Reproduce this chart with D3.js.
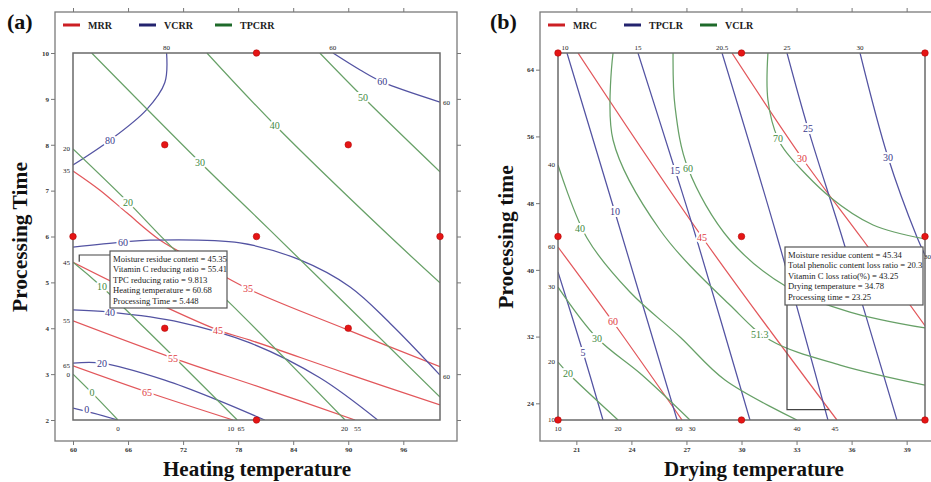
<!DOCTYPE html>
<html>
<head>
	<meta charset="utf-8">
	<script type="text/javascript" src="https://cdn.jsdelivr.net/npm/d3@7"></script>
	<title>Contour plots</title>
	<style type="text/css">
		body { margin: 0; background: #fff; }
		text { font-family: "Liberation Serif", "Times New Roman", serif; }
	</style>
</head>
<body>
<script>
	// ---------- panel (a): heating temperature x processing time ----------
	var tempTicksA = [60, 66, 72, 78, 84, 90, 96];
	var timeTicksA = [2, 3, 4, 5, 6, 7, 8, 9, 10];
	var designA = [[60,6],[70,8],[80,10],[90,8],[100,6],[80,6],[70,4],[90,4],[80,2]];
	var namesA = ['MRR', 'VCRR', 'TPCRR'];

	// contour lines: [temperature, time]
	var mrrA = [
		{v:'35', lab:[79.07,4.86], pts:[[60,7.43],[62.94,7.01],[65.9,6.51],[69.5,5.92],[73.8,5.44],[79.07,4.86],[90,3.96],[100,3.16]]},
		{v:'45', lab:[75.8,3.96],  pts:[[60,5.44],[67,4.75],[75.8,3.96],[79.3,3.74],[90,3.0],[100,2.33]]},
		{v:'55', lab:[70.9,3.35],  pts:[[60,4.16],[70.9,3.35],[80.9,2.68],[90.74,2]]},
		{v:'65', lab:[68.07,2.61], pts:[[60,3.18],[68.07,2.61],[77.44,2]]}
	];
	var vcrrA = [
		{v:'80', lab:[64.03,8.10], pts:[[70.2,10],[70.0,9.35],[68.0,8.76],[64.03,8.10],[60,7.56]]},
		{v:'60', lab:[93.7,9.37],  pts:[[88.34,10],[91.3,9.63],[93.7,9.37],[100,8.93]]},
		{v:'60', lab:[65.45,5.88], pts:[[60,5.77],[65.45,5.88],[68.4,5.92],[78.2,5.86],[84.74,5.49],[90.2,4.90],[94.55,4.11],[100,2.98]]},
		{v:'40', lab:[64.03,4.35], pts:[[60,4.40],[64.03,4.35],[71.7,4.13],[79.3,3.68],[86.9,2.92],[93.2,2.0]]},
		{v:'20', lab:[63.16,3.24], pts:[[60,3.24],[63.16,3.24],[70,2.87],[75.7,2.44],[80.9,2.0]]},
		{v:'0',  lab:[61.5,2.22],  pts:[[60,2.26],[62.2,2.15],[64.9,2.0]]}
	];
	var tpcrrA = [
		{v:'0',  lab:[62.07,2.59], pts:[[60,3.0],[62.07,2.59],[64.9,2.0]]},
		{v:'10', lab:[63.16,4.9],  pts:[[60,5.44],[63.16,4.9],[77.9,2.0]]},
		{v:'20', lab:[66,6.75],    pts:[[60,7.91],[66,6.75],[70,5.92],[78.2,4.33],[89.65,2]]},
		{v:'30', lab:[73.84,7.62], pts:[[62.04,10],[73.84,7.62],[81.47,6.14],[100,2.5]]},
		{v:'40', lab:[82,8.43],    pts:[[74.6,10],[82,8.43],[93.8,6.14],[100,4.99]]},
		{v:'50', lab:[91.6,9.04],  pts:[[86.9,10],[91.6,9.04],[100,7.41]]}
	];
	// small level labels printed around the inner frame
	var edgeTopA = [['80',70.2],['60',88.3]];
	var edgeLeftA = [['20',7.91],['35',7.43],['45',5.44],['55',4.16],['65',3.18],['0',3.0]];
	var edgeBottomA = [['0',64.9],['10',77.2],['65',78.3],['20',89.6],['55',91.0]];
	var edgeRightA = [['60',8.93],['60',2.94]];
	var boxTextA = ['Moisture residue content = 45.35', 'Vitamin C reducing ratio = 55.41',
		'TPC reducing ratio = 9.813', 'Heating temperature = 60.68', 'Processing Time = 5.448'];
	var pickA = [60.68, 5.448];

	// ---------- panel (b): drying temperature x processing time ----------
	var tempTicksB = [21, 24, 27, 30, 33, 36, 39];
	var timeTicksB = [24, 32, 40, 48, 56, 64];
	var designB = [[20,66],[30,66],[40,66],[20,44],[30,44],[40,44],[20,22],[30,22],[40,22]];
	var namesB = ['MRC', 'TPCLR', 'VCLR'];

	var mrcB = [
		{v:'30', lab:[33.3,53.41],  pts:[[29.48,66],[33.3,53.41],[36.62,43.58],[40,33.3]]},
		{v:'45', lab:[27.85,43.94], pts:[[21.09,66],[27.85,43.94],[35.2,22]]},
		{v:'60', lab:[23.0,33.75],  pts:[[20,42.74],[23.0,33.75],[26.76,22]]}
	];
	var tpclrB = [
		{v:'5',  lab:[21.36,30.15], pts:[[20,39.74],[21.36,30.15],[22.45,22]]},
		{v:'10', lab:[23.1,46.94],  pts:[[20.49,66],[23.1,46.94],[26.49,22]]},
		{v:'15', lab:[26.38,51.97], pts:[[24.36,66],[26.38,51.97],[27.57,43.58],[30.46,22]]},
		{v:'20', lab:null,          pts:[[28.94,66],[31.99,43.58],[34.71,22]]},
		{v:'25', lab:[33.62,57.0],  pts:[[32.48,66],[33.62,57.0],[35.53,43.58],[38.47,22]]},
		{v:'30', lab:[37.98,53.53], pts:[[36.46,66],[37.98,53.53],[39.56,43.94],[40,41.78]]}
	];
	var vclrB = [
		{v:'20',   lab:[20.54,27.63], pts:[[20,28.95],[20.54,27.63],[23.27,22]]},
		{v:'30',   lab:[22.13,31.83], pts:[[20,37.94],[22.13,31.83],[24.58,27.39],[27.19,22]]},
		{v:'40',   lab:[21.2,45.0],   pts:[[20,52.57],[21.58,43.82],[23.92,37.34],[26.65,31.95],[29.1,26.79],[33.02,22]]},
		{v:'51.3', lab:[31.0,32.3],   pts:[[23.0,66],[23.0,55.57],[25.56,44.78],[29.37,35.78],[31.55,31.59],[35.37,28.59],[40,26.19]]},
		{v:'60',   lab:[27.08,52.21], pts:[[26.27,66],[26.38,59.53],[27.08,52.21],[29.37,43.58],[32.48,37.94],[35.91,34.94],[40,33.03]]},
		{v:'70',   lab:[31.99,55.69], pts:[[31.44,66],[31.44,60.36],[31.99,55.69],[32.48,54.0],[34.82,48.73],[37.17,45.38],[40,43.7]]}
	];
	var edgeTopB = [['10',20.38],['15',24.36],['20.5',28.94],['25',32.48],['30',36.46]];
	var edgeLeftB = [['40',52.57],['60',42.74],['30',37.94],['20',28.95],['10',22]];
	var edgeBottomB = [['10',20],['20',23.27],['60',26.6],['30',27.3],['40',33.02],['45',35.1]];
	var edgeRightB = [['30',41.6]];
	var boxTextB = ['Moisture residue content = 45.34', 'Total phenolic content loss ratio = 20.3',
		'Vitamin C loss ratio(%) = 43.25', 'Drying temperature = 34.78', 'Processing time = 23.25'];
	var pickB = [34.78, 23.25];

	// ---------- styling ----------
	var lineColors = ['#e2575b', '#5353a2', '#67a067'];
	var labelColors = ['#e03a3f', '#3b3b8c', '#3f8a3f'];
	var legendColors = ['#cc1f24', '#23236e', '#1e6a2a'];

	var svg = d3.select('body').append('svg')
		.attr('width', 931)
		.attr('height', 482);

	function styleAxis(sel, showText) {
		sel.select('.domain').remove();
		sel.selectAll('.tick line').attr('stroke', '#777');
		sel.selectAll('.tick text')
			.attr('font-family', '"Liberation Serif", serif')
			.attr('font-size', 7)
			.attr('font-weight', 'bold')
			.attr('fill', '#333')
			.style('display', showText ? null : 'none');
	}

	function drawPanel(cfg) {
		var g = svg.append('g');
		var inr = cfg.inner, o = cfg.outer;
		var x = d3.scaleLinear().domain(cfg.xDomain).range([inr[0], inr[2]]);
		var y = d3.scaleLinear().domain(cfg.yDomain).range([inr[3], inr[1]]);

		g.append('rect')
			.attr('x', o[0]).attr('y', o[1])
			.attr('width', o[2] - o[0]).attr('height', o[3] - o[1])
			.attr('fill', 'none').attr('stroke', '#7a7a7a').attr('stroke-width', 1.3);

		g.append('g').attr('transform', 'translate(0,' + o[3] + ')')
			.call(d3.axisBottom(x).tickValues(cfg.xTicks).tickSize(4).tickPadding(2))
			.call(styleAxis, true);
		g.append('g').attr('transform', 'translate(0,' + o[1] + ')')
			.call(d3.axisTop(x).tickValues(cfg.xTicks).tickSize(4))
			.call(styleAxis, false);
		g.append('g').attr('transform', 'translate(' + o[0] + ',0)')
			.call(d3.axisLeft(y).tickValues(cfg.yTicks).tickSize(4).tickPadding(2))
			.call(styleAxis, true);
		g.append('g').attr('transform', 'translate(' + o[2] + ',0)')
			.call(d3.axisRight(y).tickValues(cfg.yTicks).tickSize(4))
			.call(styleAxis, false);

		// legend
		cfg.names.forEach(function(name, i) {
			var lx = o[0] + 8 + i * 76;
			g.append('line')
				.attr('x1', lx).attr('x2', lx + 17)
				.attr('y1', o[1] + 13).attr('y2', o[1] + 13)
				.attr('stroke', legendColors[i]).attr('stroke-width', 3);
			g.append('text')
				.attr('x', lx + 25).attr('y', o[1] + 16.5)
				.attr('font-size', 10).attr('font-weight', 'bold').attr('fill', '#222')
				.text(name);
		});

		var clipId = cfg.id + '-clip';
		g.append('clipPath').attr('id', clipId)
			.append('rect')
			.attr('x', inr[0]).attr('y', inr[1])
			.attr('width', inr[2] - inr[0]).attr('height', inr[3] - inr[1]);

		var line = d3.line()
			.x(function(d) { return x(d[0]); })
			.y(function(d) { return y(d[1]); })
			.curve(d3.curveCatmullRom.alpha(0.5));

		var plot = g.append('g').attr('clip-path', 'url(#' + clipId + ')');
		cfg.series.forEach(function(ser, s) {
			plot.selectAll(null)
				.data(ser)
				.enter()
				.append('path')
				.attr('d', function(d) { return line(d.pts); })
				.attr('fill', 'none')
				.attr('stroke', lineColors[s])
				.attr('stroke-width', 1.25);
		});
		cfg.series.forEach(function(ser, s) {
			plot.selectAll(null)
				.data(ser.filter(function(d) { return d.lab; }))
				.enter()
				.append('text')
				.attr('x', function(d) { return x(d.lab[0]); })
				.attr('y', function(d) { return y(d.lab[1]); })
				.attr('dy', '0.35em')
				.attr('text-anchor', 'middle')
				.attr('font-family', '"Liberation Sans", Arial, sans-serif')
				.attr('font-size', 10)
				.attr('fill', labelColors[s])
				.attr('stroke', '#fff').attr('stroke-width', 4)
				.attr('paint-order', 'stroke')
				.text(function(d) { return d.v; });
		});

		// inner frame
		g.append('rect')
			.attr('x', inr[0]).attr('y', inr[1])
			.attr('width', inr[2] - inr[0]).attr('height', inr[3] - inr[1])
			.attr('fill', 'none').attr('stroke', '#6a6a6a').attr('stroke-width', 1.5);

		// level labels around the frame
		function edge(list, fx, fy, anchor, dy) {
			g.selectAll(null).data(list).enter()
				.append('text')
				.attr('x', fx).attr('y', fy)
				.attr('dy', dy)
				.attr('text-anchor', anchor)
				.attr('font-size', 7).attr('fill', '#222')
				.text(function(d) { return d[0]; });
		}
		edge(cfg.edgeTop, function(d) { return x(d[1]); }, inr[1] - 3, 'middle', 0);
		edge(cfg.edgeBottom, function(d) { return x(d[1]); }, inr[3] + 11, 'middle', 0);
		edge(cfg.edgeLeft, inr[0] - 3, function(d) { return y(d[1]); }, 'end', '0.35em');
		edge(cfg.edgeRight, cfg.rightLabelX, function(d) { return y(d[1]); }, cfg.rightLabelAnchor, '0.35em');

		// info box with leader to the picked point
		var b = cfg.box;
		var px = x(cfg.pick[0]), py = y(cfg.pick[1]);
		if (cfg.leaderDown) {
			g.append('path')
				.attr('d', 'M' + (b.x + 2) + ',' + (b.y + b.h) + 'V' + py + 'H' + px)
				.attr('fill', 'none').attr('stroke', '#444').attr('stroke-width', 1.2);
		} else {
			g.append('path')
				.attr('d', 'M' + b.x + ',' + (b.y + 4) + 'H' + px + 'V' + py)
				.attr('fill', 'none').attr('stroke', '#444').attr('stroke-width', 1.2);
		}
		g.append('rect')
			.attr('x', b.x).attr('y', b.y).attr('width', b.w).attr('height', b.h)
			.attr('fill', '#fff').attr('stroke', '#555').attr('stroke-width', 1.2);
		g.selectAll(null).data(cfg.boxText).enter()
			.append('text')
			.attr('x', b.x + 3)
			.attr('y', function(d, i) { return b.y + 10.5 + i * 10.6; })
			.attr('font-size', 8.6).attr('fill', '#222')
			.text(function(d) { return d; });

		// design points
		g.selectAll(null).data(cfg.design).enter()
			.append('circle')
			.attr('cx', function(d) { return x(d[0]); })
			.attr('cy', function(d) { return y(d[1]); })
			.attr('r', 3.3)
			.attr('fill', '#e51515').attr('stroke', '#a80000').attr('stroke-width', 0.5);

		// titles
		g.append('text').attr('x', cfg.tagX).attr('y', 29)
			.attr('font-size', 22).attr('font-weight', 'bold').attr('fill', '#111')
			.text(cfg.tag);
		g.append('text').attr('x', cfg.xTitleX).attr('y', 476)
			.attr('text-anchor', 'middle')
			.attr('font-size', 21).attr('font-weight', 'bold').attr('fill', '#111')
			.text(cfg.xTitle);
		g.append('text')
			.attr('transform', 'translate(' + cfg.yTitleX + ',237) rotate(-90)')
			.attr('text-anchor', 'middle')
			.attr('font-size', 21.5).attr('font-weight', 'bold').attr('fill', '#111')
			.text(cfg.yTitle);
	}

	drawPanel({
		id: 'pa', inner: [73, 53, 440, 420], outer: [55, 12, 457, 441],
		xDomain: [60, 100], yDomain: [2, 10],
		xTicks: tempTicksA, yTicks: timeTicksA,
		names: namesA, series: [mrrA, vcrrA, tpcrrA], design: designA,
		edgeTop: edgeTopA, edgeLeft: edgeLeftA, edgeBottom: edgeBottomA, edgeRight: edgeRightA,
		rightLabelX: 443, rightLabelAnchor: 'start',
		box: {x: 110, y: 251, w: 117, h: 57}, boxText: boxTextA, pick: pickA, leaderDown: false,
		tag: '(a)', tagX: 7, xTitle: 'Heating temperature', xTitleX: 257,
		yTitle: 'Processing Time', yTitleX: 27
	});

	drawPanel({
		id: 'pb', inner: [558, 53, 925, 420], outer: [540, 12, 950, 441],
		xDomain: [20, 40], yDomain: [22, 66],
		xTicks: tempTicksB, yTicks: timeTicksB,
		names: namesB, series: [mrcB, tpclrB, vclrB], design: designB,
		edgeTop: edgeTopB, edgeLeft: edgeLeftB, edgeBottom: edgeBottomB, edgeRight: edgeRightB,
		rightLabelX: 931, rightLabelAnchor: 'end',
		box: {x: 785, y: 247, w: 138, h: 58}, boxText: boxTextB, pick: pickB, leaderDown: true,
		tag: '(b)', tagX: 490, xTitle: 'Drying temperature', xTitleX: 754,
		yTitle: 'Processing time', yTitleX: 513
	});
</script>
</body>
</html>
